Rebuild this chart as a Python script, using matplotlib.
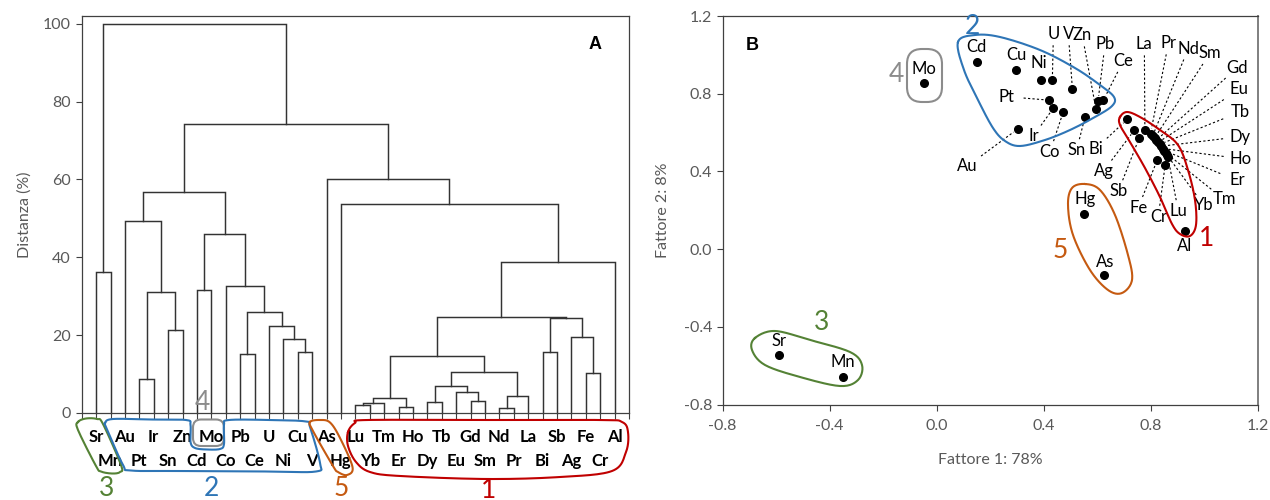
import numpy as np
import matplotlib
matplotlib.use("Agg")
import matplotlib.pyplot as plt
from matplotlib.transforms import Affine2D
from matplotlib.patches import FancyBboxPatch

plt.rcParams['font.family'] = ['Lato', 'DejaVu Sans']
plt.rcParams['axes.unicode_minus'] = False

# ---------------------------------------------------------------- data
# Dendrogram leaves in plotting order
leaves = ["Sr", "Mn", "Au", "Pt", "Ir", "Sn", "Zn", "Cd", "Mo", "Co", "Pb", "Ce",
          "U", "Ni", "Cu", "V", "As", "Hg", "Lu", "Yb", "Tm", "Er", "Ho", "Dy",
          "Tb", "Eu", "Gd", "Sm", "Nd", "Pr", "La", "Bi", "Sb", "Ag", "Fe", "Cr", "Al"]

# Agglomeration steps: (child A, child B, distance %); "mK" refers to step K
merges = [
    ("Nd", "Pr", 1.2),    # m0
    ("Er", "Ho", 1.6),    # m1
    ("Lu", "Yb", 2.0),    # m2
    ("m2", "Tm", 2.5),    # m3
    ("Dy", "Tb", 2.8),    # m4
    ("Gd", "Sm", 3.0),    # m5
    ("m3", "m1", 3.8),    # m6
    ("m0", "La", 4.4),    # m7
    ("Eu", "m5", 5.3),    # m8
    ("m4", "m8", 7.0),    # m9
    ("Pt", "Ir", 8.7),    # m10
    ("Fe", "Cr", 10.2),   # m11
    ("m9", "m7", 10.5),   # m12
    ("m6", "m12", 14.6),  # m13
    ("Pb", "Ce", 15.1),   # m14
    ("Cu", "V", 15.7),    # m15
    ("Bi", "Sb", 15.8),   # m16
    ("Ni", "m15", 18.9),  # m17
    ("Ag", "m11", 19.6),  # m18
    ("Sn", "Zn", 21.2),   # m19
    ("U", "m17", 22.4),   # m20
    ("m16", "m18", 24.3), # m21
    ("m13", "m21", 24.6), # m22
    ("m14", "m20", 26.0), # m23
    ("m10", "m19", 31.2), # m24
    ("Cd", "Mo", 31.6),   # m25
    ("Co", "m23", 32.7),  # m26
    ("Sr", "Mn", 36.1),   # m27
    ("m22", "Al", 38.7),  # m28
    ("m25", "m26", 46.0), # m29
    ("Au", "m24", 49.3),  # m30
    ("Hg", "m28", 53.7),  # m31
    ("m30", "m29", 56.8), # m32
    ("As", "m31", 60.1),  # m33
    ("m32", "m33", 74.2), # m34
    ("m27", "m34", 100.0) # m35
]

# Factor loadings (Fattore 1, Fattore 2)
elements = ["Sr", "Mn", "Mo", "Cd", "Cu", "Ni", "U", "V", "Pt", "Ir", "Co", "Sn",
            "Au", "Zn", "Pb", "Ce", "Bi", "Ag", "Sb", "La", "Pr", "Nd", "Sm", "Gd",
            "Eu", "Tb", "Dy", "Ho", "Er", "Tm", "Yb", "Lu", "Fe", "Cr", "Al", "Hg", "As"]
factor1 = [-0.589, -0.350, -0.046, 0.150, 0.297, 0.391, 0.433, 0.508, 0.421, 0.437,
           0.474, 0.555, 0.303, 0.596, 0.604, 0.624, 0.713, 0.739, 0.758, 0.779,
           0.800, 0.808, 0.815, 0.822, 0.829, 0.835, 0.841, 0.847, 0.852, 0.857,
           0.861, 0.865, 0.825, 0.855, 0.929, 0.553, 0.626]
factor2 = [-0.542, -0.656, 0.857, 0.965, 0.922, 0.869, 0.869, 0.826, 0.767, 0.726,
           0.707, 0.680, 0.618, 0.722, 0.764, 0.767, 0.668, 0.611, 0.573, 0.616,
           0.595, 0.583, 0.572, 0.561, 0.550, 0.540, 0.530, 0.518, 0.507, 0.496,
           0.486, 0.475, 0.458, 0.435, 0.095, 0.182, -0.135]

# ---------------------------------------------------------------- styling
label_pos = {  # text anchor of each loading label (data units)
    "Sr": (-0.589, -0.471), "Mn": (-0.350, -0.578), "Mo": (-0.047, 0.929),
    "Cd": (0.150, 1.042), "Cu": (0.297, 0.997), "Ni": (0.381, 0.956),
    "U": (0.437, 1.106), "V": (0.493, 1.106), "Zn": (0.545, 1.100),
    "Pb": (0.630, 1.054), "Ce": (0.698, 0.968), "Pt": (0.262, 0.785),
    "Ir": (0.362, 0.582), "Co": (0.424, 0.500), "Sn": (0.524, 0.510),
    "Bi": (0.595, 0.517), "Au": (0.115, 0.427), "Ag": (0.624, 0.402),
    "Sb": (0.680, 0.299), "Fe": (0.754, 0.213), "Cr": (0.829, 0.167),
    "Lu": (0.904, 0.196), "Yb": (1.000, 0.225), "Tm": (1.075, 0.256),
    "Er": (1.124, 0.354), "Ho": (1.137, 0.466), "Dy": (1.135, 0.579),
    "Tb": (1.135, 0.706), "Eu": (1.132, 0.822), "Gd": (1.124, 0.934),
    "Sm": (1.022, 1.008), "Nd": (0.941, 1.032), "Pr": (0.867, 1.059),
    "La": (0.777, 1.054), "Al": (0.929, 0.015), "Hg": (0.555, 0.256),
    "As": (0.630, -0.064),
}
no_leader = {"Sr", "Mn", "Mo", "Cd", "Cu", "Ni", "Al", "Hg", "As"}

GREEN, BLUE, GRAY, ORANGE, RED = "#548235", "#2e75b6", "#8c8c8c", "#c55a11", "#c00000"
TXT = "#595959"
SPINE = "#404040"

W, H = 1270, 500
fig = plt.figure(figsize=(W / 100, H / 100), dpi=100)
px = Affine2D().scale(1 / W, -1 / H).translate(0, 1) + fig.transFigure


def smooth_closed(pts, n=14):
    P = np.asarray(pts, float)
    m = len(P)
    out = []
    for i in range(m):
        p0, p1, p2, p3 = P[i - 1], P[i], P[(i + 1) % m], P[(i + 2) % m]
        for t in np.linspace(0, 1, n, endpoint=False):
            t2, t3 = t * t, t * t * t
            out.append(0.5 * (2 * p1 + (-p0 + p2) * t + (2 * p0 - 5 * p1 + 4 * p2 - p3) * t2
                              + (-p0 + 3 * p1 - 3 * p2 + p3) * t3))
    out.append(out[0])
    return np.array(out)


def outline(pts, color, lw=1.5):
    c = smooth_closed(pts)
    fig.add_artist(plt.Line2D(c[:, 0], c[:, 1], transform=px, color=color, lw=lw,
                              solid_joinstyle="round"))


def number(x, y, s, color, size=19):
    fig.text(x, y, s, transform=px, color=color, fontsize=size, ha="center", va="center")


# ================================================================ panel A
axA = fig.add_axes([81.7 / W, 1 - 413 / H, 547.2 / W, 397 / H])
axA.set_xlim(0, 38)
axA.set_ylim(0, 102)

xpos = {name: i + 1 for i, name in enumerate(leaves)}
ypos = {name: 0.0 for name in leaves}
for k, (a, b, h) in enumerate(merges):
    xa, ya, xb, yb = xpos[a], ypos[a], xpos[b], ypos[b]
    axA.plot([xa, xa, xb, xb], [ya, h, h, yb], color="#333333", lw=1.05,
             solid_joinstyle="miter", clip_on=False)
    xpos[f"m{k}"] = (xa + xb) / 2
    ypos[f"m{k}"] = h

axA.set_xticks(range(0, 39))
axA.set_xticklabels([])
axA.set_yticks(range(0, 101, 20))
axA.tick_params(axis="both", direction="out", length=4, width=0.8, color=SPINE,
                labelcolor=TXT, labelsize=11.5)
axA.tick_params(axis="y", pad=4)
for s in axA.spines.values():
    s.set_color(SPINE)
    s.set_linewidth(0.9)
axA.set_ylabel("Distanza (%)", color=TXT, fontsize=11.5, labelpad=8)

for i, name in enumerate(leaves):
    yrow = -6.2 if i % 2 == 0 else -12.3
    axA.text(i + 1, yrow, name, ha="center", va="center", fontsize=12,
             fontweight="bold", color="black", clip_on=False)
axA.text(0.938, 0.927, "A", transform=axA.transAxes, ha="center", va="center",
         fontsize=13, fontweight="bold", family="Liberation Sans")

# group outlines under the leaf labels
outline([(78, 422), (86, 418.5), (97, 419), (103, 424), (121, 465), (120, 472),
         (112, 473.5), (101, 471.5), (96, 466), (78, 430)], GREEN)
outline([(105, 423), (113, 419), (150, 419.5), (186, 420), (190.5, 425), (190.5, 442),
         (195, 448), (207, 449.5), (220, 449), (224, 444), (224, 425), (229, 420),
         (270, 420), (306, 421.5), (310, 427), (320, 463), (316, 471.5), (270, 471.5),
         (180, 471), (131, 470.5), (123, 465), (107, 429)], BLUE)
fig.add_artist(FancyBboxPatch((193, 419.5), 31, 26.5, boxstyle="round,pad=0,rounding_size=8",
                              transform=px, fill=False, ec=GRAY, lw=1.5))
outline([(310, 422), (320, 420), (330, 422.5), (340, 438), (352.5, 467), (347, 475),
         (338, 472), (333, 466), (313, 431)], ORANGE)
outline([(348, 432), (355, 423), (367, 420), (480, 420), (600, 420), (622, 422),
         (628, 432), (626, 452), (612, 471), (560, 477), (487, 479), (400, 476),
         (370, 472), (356, 462), (348, 446)], RED)
number(107, 488, "3", GREEN)
number(211, 488, "2", BLUE)
number(341, 488, "5", ORANGE)
number(489, 490, "1", RED)
number(202, 403, "4", GRAY)

# ================================================================ panel B
axB = fig.add_axes([722.5 / W, 1 - 404.7 / H, 535 / W, 388.7 / H])
axB.set_xlim(-0.8, 1.2)
axB.set_ylim(-0.8, 1.2)
ticks = np.arange(-0.8, 1.21, 0.4)
axB.set_xticks(ticks)
axB.set_yticks(ticks)
axB.set_xticklabels([f"{t:.1f}" for t in ticks])
axB.set_yticklabels([f"{t:.1f}" for t in ticks])
axB.tick_params(axis="both", direction="out", length=4, width=0.8, color=SPINE,
                labelcolor=TXT, labelsize=11.5)
axB.tick_params(axis="x", pad=6)
for s in axB.spines.values():
    s.set_color(SPINE)
    s.set_linewidth(0.9)
axB.spines["right"].set_color("#7f7f7f")
axB.spines["right"].set_linewidth(1.4)
axB.set_xlabel("Fattore 1: 78%", color=TXT, fontsize=11.5, labelpad=15)
axB.set_ylabel("Fattore 2: 8%", color=TXT, fontsize=11.5, labelpad=10)
axB.text(0.055, 0.925, "B", transform=axB.transAxes, ha="center", va="center",
         fontsize=13, fontweight="bold", family="Liberation Sans")

axB.plot(factor1, factor2, "o", color="black", ms=5.5, zorder=4)

fig.canvas.draw()
to_disp = axB.transData.transform
from_disp = axB.transData.inverted().transform
for name, fx, fy in zip(elements, factor1, factor2):
    lx, ly = label_pos[name]
    axB.text(lx, ly, name, ha="center", va="center", fontsize=12, color="black",
             zorder=5)
    if name in no_leader:
        continue
    p_lab = to_disp((lx, ly))
    p_dot = to_disp((fx, fy))
    d = p_dot - p_lab
    dist = np.hypot(*d)
    u = d / dist
    hw = 6.0 + 4.5 * len(name)
    hh = 9.0
    r = min(hw / max(abs(u[0]), 1e-6), hh / max(abs(u[1]), 1e-6)) + 2
    start = p_lab + u * r
    end = p_dot - u * 5
    (sx, sy), (ex, ey) = from_disp(start), from_disp(end)
    axB.plot([sx, ex], [sy, ey], color="black", lw=0.8, ls=(0, (2, 2)), zorder=3)

# loading-group outlines
outline([(958, 42), (975, 35), (1000, 37), (1040, 50), (1075, 68), (1100, 85),
         (1114, 97), (1112, 106), (1095, 117), (1070, 130), (1045, 140), (1020, 146),
         (1005, 141), (993, 128), (978, 100), (964, 70)], BLUE)
outline([(1120, 117), (1127, 112), (1140, 117), (1160, 130), (1178, 145), (1188, 170),
         (1195, 200), (1196, 225), (1190, 236), (1180, 234), (1172, 224), (1160, 197),
         (1145, 168), (1130, 142), (1120, 125)], RED)
outline([(1085, 184), (1100, 190), (1115, 215), (1128, 255), (1132, 280), (1122, 293),
         (1108, 290), (1090, 270), (1073, 235), (1068, 205), (1072, 188)], ORANGE)
outline([(755, 338), (775, 331), (810, 340), (850, 352), (862, 365), (858, 380),
         (840, 386), (800, 377), (765, 365), (752, 350)], GREEN)
fig.add_artist(FancyBboxPatch((907, 49), 35, 53, boxstyle="round,pad=0,rounding_size=15",
                              transform=px, fill=False, ec=GRAY, lw=1.5))
number(896, 75, "4", GRAY)
number(972, 27, "2", BLUE)
number(1207, 238, "1", RED)
number(1060, 250, "5", ORANGE)
number(822, 322, "3", GREEN)

fig.savefig("out.png", dpi=100)
